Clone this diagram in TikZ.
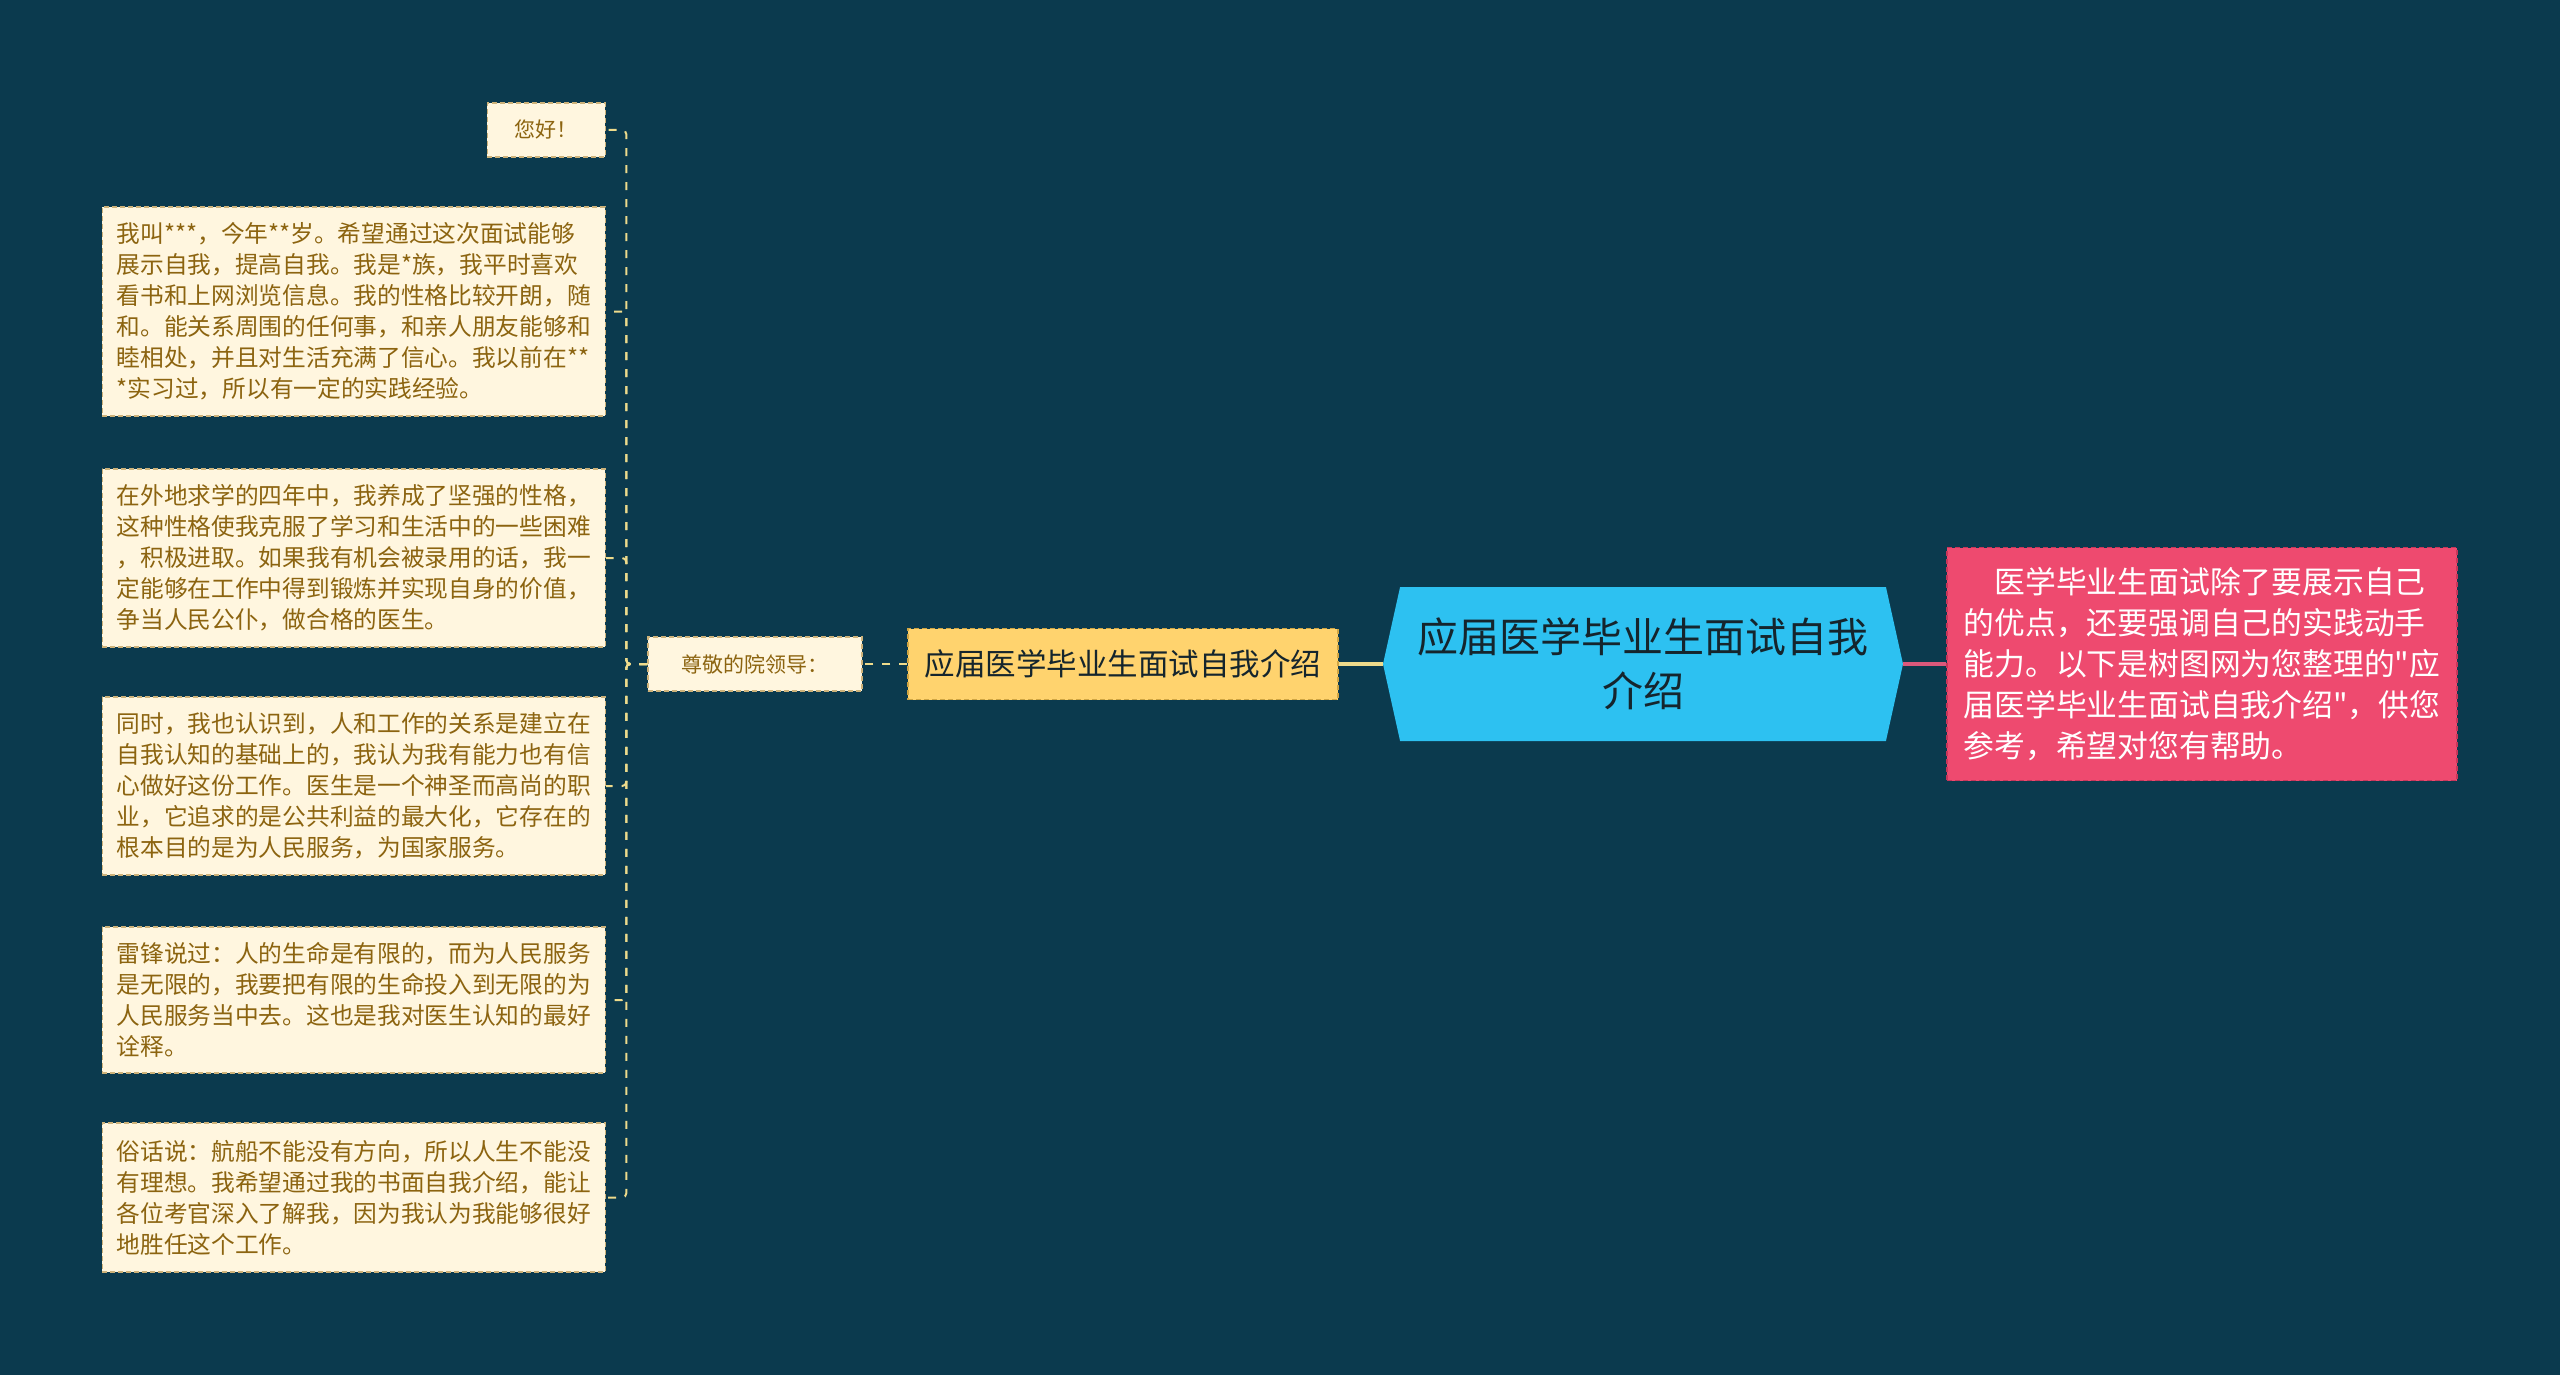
\documentclass[tikz,border=0pt]{standalone}
\usepackage{fontspec}
\setmainfont{Noto Sans CJK SC}[Ligatures=TeXOff]
\usepackage{tikz}
\usetikzlibrary{positioning,shapes.symbols}
\definecolor{bgteal}{HTML}{0B3A4E}
\definecolor{leafcream}{HTML}{FFF6DF}
\definecolor{leafedge}{HTML}{CDB27A}
\definecolor{leafbrown}{HTML}{8C6410}
\definecolor{linkyellow}{HTML}{EEDB8C}
\definecolor{subgold}{HTML}{FFD36E}
\definecolor{subedge}{HTML}{CFA544}
\definecolor{topicblue}{HTML}{2DC1F1}
\definecolor{topicink}{HTML}{15252D}
\definecolor{notered}{HTML}{EE4A6F}
\definecolor{noteedge}{HTML}{C7365A}
\definecolor{linkpink}{HTML}{DA587B}
\tikzset{%
	topic/.style     = {signal, signal to=west and east, signal pointer angle=155, fill=topicblue, text=topicink, minimum width=520pt, minimum height=154pt, inner sep=0pt, align=center, font=\fontsize{41}{54}\selectfont}, % Root
	subtopic/.style  = {draw=subedge, line width=1.5pt, dash pattern=on 5pt off 3pt, fill=subgold, text=topicink, minimum width=430pt, minimum height=71pt, font=\fontsize{30.5}{38}\selectfont},
	leaf/.style      = {draw=leafedge, line width=1.5pt, dash pattern=on 5pt off 3pt, fill=leafcream, text=leafbrown, minimum width=503pt, inner sep=5pt, align=left, font=\fontsize{23.7}{31}\selectfont},
	smallleaf/.style = {leaf, minimum width=#1, minimum height=54pt, align=center, font=\fontsize{21}{26}\selectfont},
	note/.style      = {draw=noteedge, line width=1.5pt, dash pattern=on 5pt off 3pt, fill=notered, text=white, minimum width=510pt, minimum height=233pt, inner sep=5pt, align=left, font=\fontsize{30.8}{40.8}\selectfont},
	link/.style      = {linkyellow, line width=2pt, dash pattern=on 8pt off 9pt, rounded corners=4pt},
	trunk/.style     = {linkyellow, line width=4pt},
	redlink/.style   = {linkpink, line width=4pt},
}

\begin{document}
\begin{tikzpicture}[x=1pt, y=-1pt]
	\fill[bgteal] (0,0) rectangle (2560,1375);
	\node[topic] (root) at (1643,664) {应届医学毕业生面试自我\\介绍};
	\node[subtopic, left of=root, node distance=520pt] (sub) {应届医学毕业生面试自我介绍};
	\node[smallleaf=214pt, left of=sub, node distance=368pt] (lead) {尊敬的院领导：};
	\node[note, right of=root, node distance=559pt] (note) {\hspace*{1em}医学毕业生面试除了要展示自己\\的优点，还要强调自己的实践动手\\能力。以下是树图网为您整理的"应\\届医学毕业生面试自我介绍"，供您\\参考，希望对您有帮助。};
	% children of the greeting
	\node[smallleaf=118pt, anchor=east] (hi) at (606,130) {您好！};
	\node[leaf, minimum height=209pt, anchor=east] (c1) at (606,311.5) {我叫***，今年**岁。希望通过这次面试能够\\展示自我，提高自我。我是*族，我平时喜欢\\看书和上网浏览信息。我的性格比较开朗，随\\和。能关系周围的任何事，和亲人朋友能够和\\睦相处，并且对生活充满了信心。我以前在**\\{}*实习过，所以有一定的实践经验。};
	\node[leaf, minimum height=178pt, anchor=east] (c2) at (606,558) {在外地求学的四年中，我养成了坚强的性格，\\这种性格使我克服了学习和生活中的一些困难\\，积极进取。如果我有机会被录用的话，我一\\定能够在工作中得到锻炼并实现自身的价值，\\争当人民公仆，做合格的医生。};
	\node[leaf, minimum height=178pt, anchor=east] (c3) at (606,786) {同时，我也认识到，人和工作的关系是建立在\\自我认知的基础上的，我认为我有能力也有信\\心做好这份工作。医生是一个神圣而高尚的职\\业，它追求的是公共利益的最大化，它存在的\\根本目的是为人民服务，为国家服务。};
	\node[leaf, minimum height=146pt, anchor=east] (c4) at (606,1000) {雷锋说过：人的生命是有限的，而为人民服务\\是无限的，我要把有限的生命投入到无限的为\\人民服务当中去。这也是我对医生认知的最好\\诠释。};
	\node[leaf, minimum height=149pt, anchor=east] (c5) at (606,1197.5) {俗话说：航船不能没有方向，所以人生不能没\\有理想。我希望通过我的书面自我介绍，能让\\各位考官深入了解我，因为我认为我能够很好\\地胜任这个工作。};
	\coordinate (fork) at ([xshift=-21pt]lead.west);
	\draw[trunk] (root.west) -- (sub.east);
	\draw[redlink] (root.east) -- (note.west);
	\draw[link] (sub.west) -- (lead.east);
	\draw[link] (lead.west) -- (fork) |- (hi.east);
	\draw[link] (lead.west) -- (fork) |- (c1.east);
	\draw[link] (lead.west) -- (fork) |- (c2.east);
	\draw[link] (lead.west) -- (fork) |- (c3.east);
	\draw[link] (lead.west) -- (fork) |- (c4.east);
	\draw[link] (lead.west) -- (fork) |- (c5.east);
\end{tikzpicture}
\end{document}
